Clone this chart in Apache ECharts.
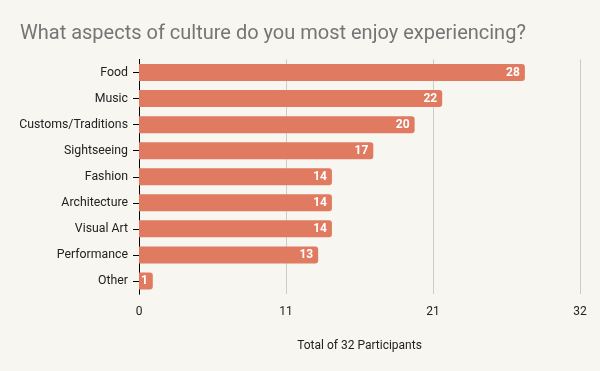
<!DOCTYPE html>
<html><head><meta charset="utf-8">
<script src="https://cdn.jsdelivr.net/npm/echarts@6/dist/echarts.min.js"></script>
<style>html,body{margin:0;padding:0;background:#f7f6f1;}#c{width:600px;height:371px;}</style>
</head><body><div id="c"></div>
<script>
var categories = ['Food','Music','Customs/Traditions','Sightseeing','Fashion','Architecture','Visual Art','Performance','Other'];
var values = [28,22,20,17,14,14,14,13,1];
var xMax = 32;
var xTickCount = 3;

var chart = echarts.init(document.getElementById('c'), null, {renderer:'canvas'});
var yBase = {
  type:'category', data:categories, inverse:true,
  axisTick:{show:true, alignWithLabel:true, length:6, lineStyle:{color:'#000'}},
  axisLine:{show:true, lineStyle:{color:'#000', width:1}},
  splitLine:{show:false}
};
chart.setOption({
  backgroundColor:'#f7f6f1',
  animation:false,
  title:{text:'What aspects of culture do you most enjoy experiencing?', left:15, top:19,
    textStyle:{fontFamily:'Roboto', fontSize:20, fontWeight:'normal', color:'#757575'}},
  grid:{left:139, right:20, top:59.5, bottom:77, containLabel:false},
  xAxis:{type:'value', min:0, max:xMax, interval:xMax/xTickCount,
    name:'Total of 32 Participants', nameLocation:'middle', nameGap:46,
    nameTextStyle:{fontFamily:'Roboto', fontSize:12, color:'#222'},
    axisLabel:{fontFamily:'Roboto', fontSize:12, color:'#222', margin:12,
      formatter:function(v){return Math.round(v);}},
    axisLine:{show:false}, axisTick:{show:false},
    splitLine:{show:true, lineStyle:{color:'#cccccc', width:1}}
  },
  yAxis:[
    Object.assign({}, yBase, {axisLabel:{fontFamily:'Roboto', fontSize:12.3, color:'#222', margin:11}}),
    Object.assign({}, yBase, {position:'left', axisLabel:{show:false},
      axisTick:{show:true, inside:true, alignWithLabel:true, length:6, lineStyle:{color:'#000'}}})
  ],
  series:[{
    type:'bar', data:values, yAxisIndex:0, barWidth:17,
    itemStyle:{color:'#e07b61', borderRadius:[0,3,3,0]},
    label:{show:true, position:'insideRight', distance:5, color:'#fff',
      fontFamily:'Roboto', fontSize:12, fontWeight:'bold'}
  }]
});
</script></body></html>
